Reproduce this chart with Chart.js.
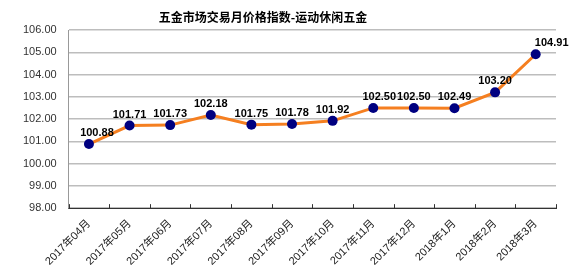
<!DOCTYPE html>
<html><head><meta charset="utf-8">
<script src="https://cdn.jsdelivr.net/npm/chart.js@4"></script>
<style>html,body{margin:0;padding:0;background:#fff}#w{width:586px;height:270px}</style>
</head><body><div id="w"><canvas id="c"></canvas></div>
<script>
const categories = ["2017年04月","2017年05月","2017年06月","2017年07月","2017年08月","2017年09月","2017年10月","2017年11月","2017年12月","2018年1月","2018年2月","2018年3月"];
const values = [100.88,101.71,101.73,102.18,101.75,101.78,101.92,102.50,102.50,102.49,103.20,104.91];
const labelShiftX = [8,0,0,0,0,0,0,6,0,0,0,16];
const yMin = 98, yMax = 106, yStep = 1;
const title = "五金市场交易月价格指数-运动休闲五金";

const extras = {
  id: 'extras',
  afterDatasetsDraw(chart) {
    const ctx = chart.ctx, x = chart.scales.x;
    const a = chart.chartArea;
    ctx.save();
    ctx.strokeStyle = '#333'; ctx.lineWidth = 1;
    for (let i = 0; i <= categories.length; i++) {
      const px = Math.round(x.left + (x.right - x.left) * i / categories.length) + 0.5;
      ctx.beginPath(); ctx.moveTo(px, a.bottom); ctx.lineTo(px, a.bottom - 4); ctx.stroke();
    }
    const meta = chart.getDatasetMeta(0);
    ctx.font = 'bold 11px "Liberation Sans", Arial, sans-serif';
    ctx.fillStyle = '#000'; ctx.textAlign = 'center'; ctx.textBaseline = 'middle';
    meta.data.forEach((p, i) => {
      ctx.fillText(values[i].toFixed(2), p.x + labelShiftX[i], p.y - 11);
    });
    ctx.font = 'bold 12px "Noto Sans CJK SC", sans-serif';
    ctx.fillText(title, 263, 17);
    ctx.restore();
  }
};

new Chart(document.getElementById('c'), {
  type: 'line',
  data: { labels: categories, datasets: [{
    data: values, borderColor: '#f57f20', borderWidth: 3,
    pointBackgroundColor: '#000080', pointBorderColor: '#000080',
    pointRadius: 5, pointBorderWidth: 0, tension: 0
  }]},
  options: {
    responsive: true, maintainAspectRatio: false, animation: false,
    layout: { padding: { left: 11, right: 30, top: 30, bottom: -7 } },
    plugins: { legend: { display: false }, tooltip: { enabled: false }, title: { display: false } },
    scales: {
      x: { offset: true,
        grid: { display: false, drawTicks: false },
        border: { display: true, color: '#333', width: 1 },
        ticks: { minRotation: 45, maxRotation: 45, padding: 9, color: '#222',
          font: { family: '"Liberation Sans", "Noto Sans CJK SC", sans-serif', size: 11 } } },
      y: { min: yMin, max: yMax,
        grid: { color: '#bdbdbd', drawTicks: false, lineWidth: 1.5 },
        border: { display: true, color: '#999', width: 1 },
        ticks: { stepSize: yStep, padding: 12, color: '#333',
          font: { family: '"Liberation Sans", Arial, sans-serif', size: 11 },
          callback: v => Number(v).toFixed(2) } }
    }
  },
  plugins: [extras]
});
</script></body></html>
